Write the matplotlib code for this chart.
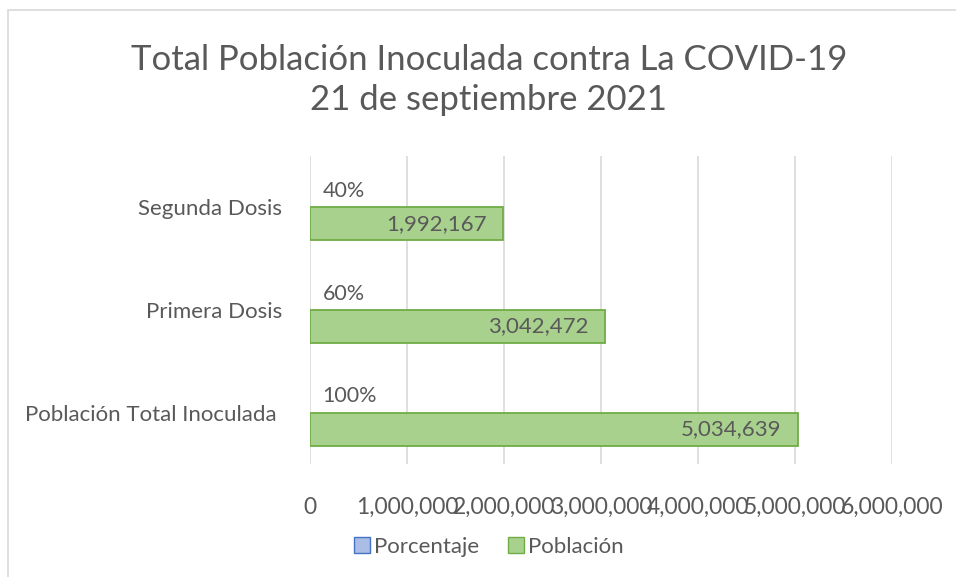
import matplotlib
matplotlib.use('Agg')
import matplotlib.pyplot as plt
from matplotlib.patches import Patch, Rectangle

plt.rcParams['font.family'] = ['Lato', 'DejaVu Sans']

categorias = ['Población Total Inoculada ', 'Primera Dosis', 'Segunda Dosis']
poblacion = [5034639, 3042472, 1992167]
porcentaje = [1.00, 0.60, 0.40]
x_ticks = [0, 1000000, 2000000, 3000000, 4000000, 5000000, 6000000]
titulo = 'Total Población Inoculada contra La COVID-19\n21 de septiembre 2021'

gris = '#595959'
verde, verde_borde = '#A9D18E', '#70AD47'
azul, azul_borde = '#A9BDE5', '#4472C4'

fig = plt.figure(figsize=(9.56, 5.77), dpi=100)
ax = fig.add_axes([310 / 956, 1 - 464 / 577, 582 / 956, 308 / 577])

h = 0.32
ys = range(len(categorias))
ys_pct = [y + h / 2 for y in ys]
ys_pob = [y - h / 2 for y in ys]

# porcentaje sobre la escala de poblacion -> barras invisibles
ax.barh(ys_pct, porcentaje, height=h, color=azul, linewidth=0, zorder=3)
ax.barh(ys_pob, poblacion, height=h, color=verde, edgecolor=verde_borde, linewidth=1.3, zorder=3)

# etiquetas de datos
for y, v in zip(ys_pct, porcentaje):
    ax.annotate(f'{v:.0%}', (v, y), xytext=(9, 0), textcoords='offset points',
                ha='left', va='center', color=gris, fontsize=15.5)
for y, v in zip(ys_pob, poblacion):
    ax.annotate(f'{v:,}', (v, y), xytext=(-12, 0), textcoords='offset points',
                ha='right', va='center', color=gris, fontsize=16, zorder=4)

ax.set_xlim(0, 6000000)
ax.set_ylim(-0.5, len(categorias) - 0.5)
ax.set_xticks(x_ticks)
ax.set_xticklabels([f'{t:,}' for t in x_ticks])
ax.set_yticks(list(ys))
ax.set_yticklabels(categorias)
ax.tick_params(axis='x', length=0, pad=24, labelsize=16.5, labelcolor=gris)
ax.tick_params(axis='y', length=0, pad=20, labelsize=16, labelcolor=gris)
ax.grid(axis='x', color='#D9D9D9', linewidth=1.2, zorder=0)
ax.set_axisbelow(True)
for s in ax.spines.values():
    s.set_visible(False)

fig.text(489 / 956, 1 - 80 / 577, titulo, ha='center', va='center', fontsize=25,
         color=gris, linespacing=1.32)

handles = [Patch(facecolor=azul, edgecolor=azul_borde, label='Porcentaje'),
           Patch(facecolor=verde, edgecolor=verde_borde, label='Población')]
fig.legend(handles=handles, loc='center', bbox_to_anchor=(489 / 956, 1 - 547 / 577), ncol=2,
           frameon=False, fontsize=16, labelcolor=gris, handlelength=0.7, handleheight=0.7,
           handletextpad=0.2, columnspacing=1.3)

fig.patches.append(Rectangle((8 / 956, -0.1), 1.2, 1.1 - 10 / 577, transform=fig.transFigure,
                             fill=False, edgecolor='#D9D9D9', linewidth=1.2))

fig.savefig('out.png', dpi=100)
